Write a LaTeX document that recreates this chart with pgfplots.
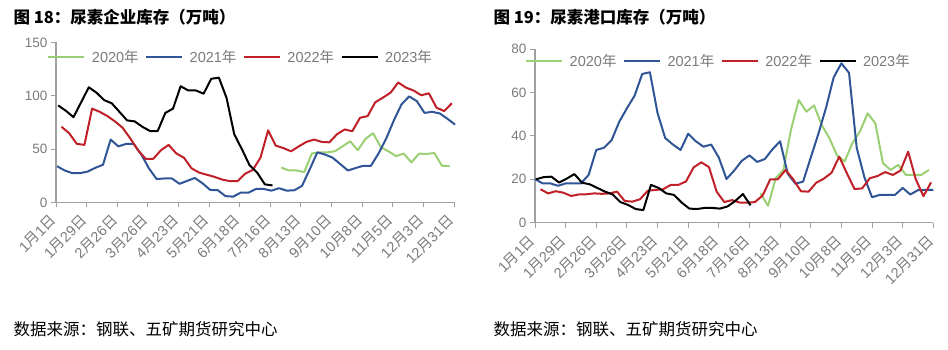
\documentclass[border=0pt]{standalone}
\usepackage{pgfplots}
\pgfplotsset{compat=1.18}
\usepackage{fontspec}
\setmainfont{Liberation Sans}
\newfontfamily\cjk{Noto Sans CJK SC}
\definecolor{cgreen}{RGB}{155,207,115}
\definecolor{cblue}{RGB}{47,85,151}
\definecolor{cred}{RGB}{192,32,40}
\definecolor{axgray}{RGB}{160,160,160}
\definecolor{labgray}{RGB}{125,122,120}
\newcommand{\md}[2]{#1{\cjk 月}#2{\cjk 日}}
\newcommand{\yr}[1]{#1{\cjk 年}}
\pgfplotsset{
  urea/.style={
    scale only axis, clip=false,
    xmin=0, xmax=364,
    xtick={0,28,...,364},
    xticklabels={\md{1}{1},\md{1}{29},\md{2}{26},\md{3}{26},\md{4}{23},\md{5}{21},\md{6}{18},\md{7}{16},\md{8}{13},\md{9}{10},\md{10}{8},\md{11}{5},\md{12}{3},\md{12}{31}},
    axis x line*=bottom, axis y line*=left,
    axis line style={axgray, line width=1.2pt, -},
    tick style={axgray, line width=1pt},
    tick align=outside, major tick length=5pt,
    /pgf/number format/assume math mode=true,
    xticklabel shift=8pt,
    xticklabel style={rotate=45, anchor=east, text=labgray, font=\fontsize{14.5}{14.5}\selectfont},
    yticklabel style={text=labgray, font=\fontsize{13.5}{13.5}\selectfont},
    legend columns=4,
    legend image code/.code={\draw[#1] (0pt,0pt) -- (36pt,0pt);},
    legend style={draw=none, fill=none, anchor=west, column sep=6.5pt, inner sep=0pt,
      nodes={inner sep=0pt, text=labgray}, font=\fontsize{14.5}{14.5}\selectfont},
    every axis plot/.append style={line width=2pt, line join=round},
  }
}
\begin{document}
\begin{tikzpicture}
\path[use as bounding box] (0pt,0pt) rectangle (948pt,350pt);
\node[anchor=west, font=\cjk\bfseries\fontsize{16.5}{16.5}\selectfont] at (10pt,333pt) {图 18：尿素企业库存（万吨）};
\node[anchor=west, font=\cjk\bfseries\fontsize{16.5}{16.5}\selectfont] at (490pt,333pt) {图 19：尿素港口库存（万吨）};
\node[anchor=west, font=\cjk\fontsize{16.5}{16.5}\selectfont] at (10pt,21pt) {数据来源：钢联、五矿期货研究中心};
\node[anchor=west, font=\cjk\fontsize{16.5}{16.5}\selectfont] at (490pt,21pt) {数据来源：钢联、五矿期货研究中心};

\begin{axis}[urea, at={(56pt,147.5pt)}, anchor=south west, width=398pt, height=160pt,
  ymin=0, ymax=150, ytick={0,50,100,150},
  legend style={at={(-0.022,0.909)}}]
\addplot[cgreen] table[row sep=\\, header=false, x expr={206+7*\coordindex}, y index=0] {
32.8\\30\\30\\28.5\\46\\47\\47\\48\\52.6\\57.4\\49\\59.6\\65\\52\\48\\43.5\\45.8\\37.6\\45.8\\45.5\\46.4\\34.4\\34.4\\};
\addlegendentry{\yr{2020}}
\addplot[cblue] table[row sep=\\, header=false, x expr={1+7*\coordindex}, y index=0] {
34\\30\\27.5\\27.5\\29\\32.5\\35.4\\59\\52.6\\54.9\\55\\45\\32\\22\\22.5\\22.5\\17.5\\20.3\\23\\18\\11.8\\11.5\\6\\5.5\\9.3\\9.2\\12.7\\12.7\\11.1\\13.4\\11.1\\11.5\\15.6\\31\\47\\45\\42\\36\\30\\32.3\\34.4\\34.4\\46\\60\\77\\92\\99.5\\95\\84\\85\\83.5\\78.5\\73\\};
\addlegendentry{\yr{2021}}
\addplot[cred] table[row sep=\\, header=false, x expr={5+7*\coordindex}, y index=0] {
71\\65\\55\\54\\88\\85\\81\\76\\70\\60\\49\\41\\41\\49\\54\\46\\42\\32\\28\\26\\24\\21.5\\20\\20\\27\\30.5\\42\\67.7\\53.3\\51\\48\\52.6\\56.8\\59\\56.8\\56.4\\64\\68.5\\66.8\\79.4\\81\\94\\98.3\\103\\112.5\\107.7\\105\\100.5\\102.4\\88.9\\85.7\\93\\};
\addlegendentry{\yr{2022}}
\addplot[black] table[row sep=\\, header=false, x expr={2+7*\coordindex}, y index=0] {
91\\86\\80\\94\\108\\103\\96\\93\\85\\77\\76\\71\\67\\67\\84\\88\\109\\105\\105\\102\\116\\117\\98\\64\\50\\35\\28\\17\\16\\};
\addlegendentry{\yr{2023}}
\end{axis}

\begin{axis}[urea, at={(535pt,127.3pt)}, anchor=south west, width=398.3pt, height=173.7pt,
  ymin=0, ymax=80, ytick={0,20,40,60,80},
  legend style={at={(-0.025,0.929)}}]
\addplot[cgreen] table[row sep=\\, header=false, x expr={206+7*\coordindex}, y index=0] {
13.5\\7.8\\20.5\\24.3\\43\\56.5\\51.1\\54\\45\\39\\31\\28.2\\36.6\\42\\50.4\\45.8\\27.4\\24.3\\26.6\\22\\22\\22\\24.3\\};
\addlegendentry{\yr{2020}}
\addplot[cblue] table[row sep=\\, header=false, x expr={7*\coordindex}, y index=0] {
20.1\\18.1\\18.1\\17\\18.1\\18.1\\18.1\\22\\33.5\\34.5\\38\\46.5\\52.7\\58.5\\68.5\\69.3\\50.5\\39\\36\\33.5\\41\\37.5\\35\\36\\30\\20.1\\24\\28.5\\31\\28\\29.3\\33.8\\37.5\\22.5\\18\\18.9\\30\\41\\53\\67\\73.4\\69\\34.5\\21\\11.7\\12.8\\12.8\\12.8\\16\\13\\15\\15.1\\15.1\\};
\addlegendentry{\yr{2021}}
\addplot[cred] table[row sep=\\, header=false, x expr={5+7*\coordindex}, y index=0] {
15.4\\13.5\\14.5\\13.8\\12.3\\13\\13.1\\13.5\\13.3\\13.5\\14.3\\10\\9.7\\10.8\\14.7\\15.1\\15.4\\17.4\\17.4\\19\\25.5\\27.8\\25.6\\14.3\\9.5\\10.4\\9.3\\9.2\\9.5\\12.5\\20\\20\\24.3\\20\\14.5\\14.3\\18.4\\20.3\\23\\30.4\\22.8\\15.5\\15.8\\20.5\\21.5\\23.3\\22\\24\\32.7\\20\\12.2\\18.6\\};
\addlegendentry{\yr{2022}}
\addplot[black] table[row sep=\\, header=false, x expr={1+7*\coordindex}, y index=0] {
20\\21\\21.2\\18.5\\20.3\\22.4\\18.4\\17.7\\16\\14.3\\13\\9.5\\8.2\\6.3\\5.8\\17.4\\16\\13.5\\12.8\\9.3\\6.5\\6.3\\6.8\\6.8\\6.5\\7.5\\10\\13.2\\8\\};
\addlegendentry{\yr{2023}}
\end{axis}
\end{tikzpicture}
\end{document}
